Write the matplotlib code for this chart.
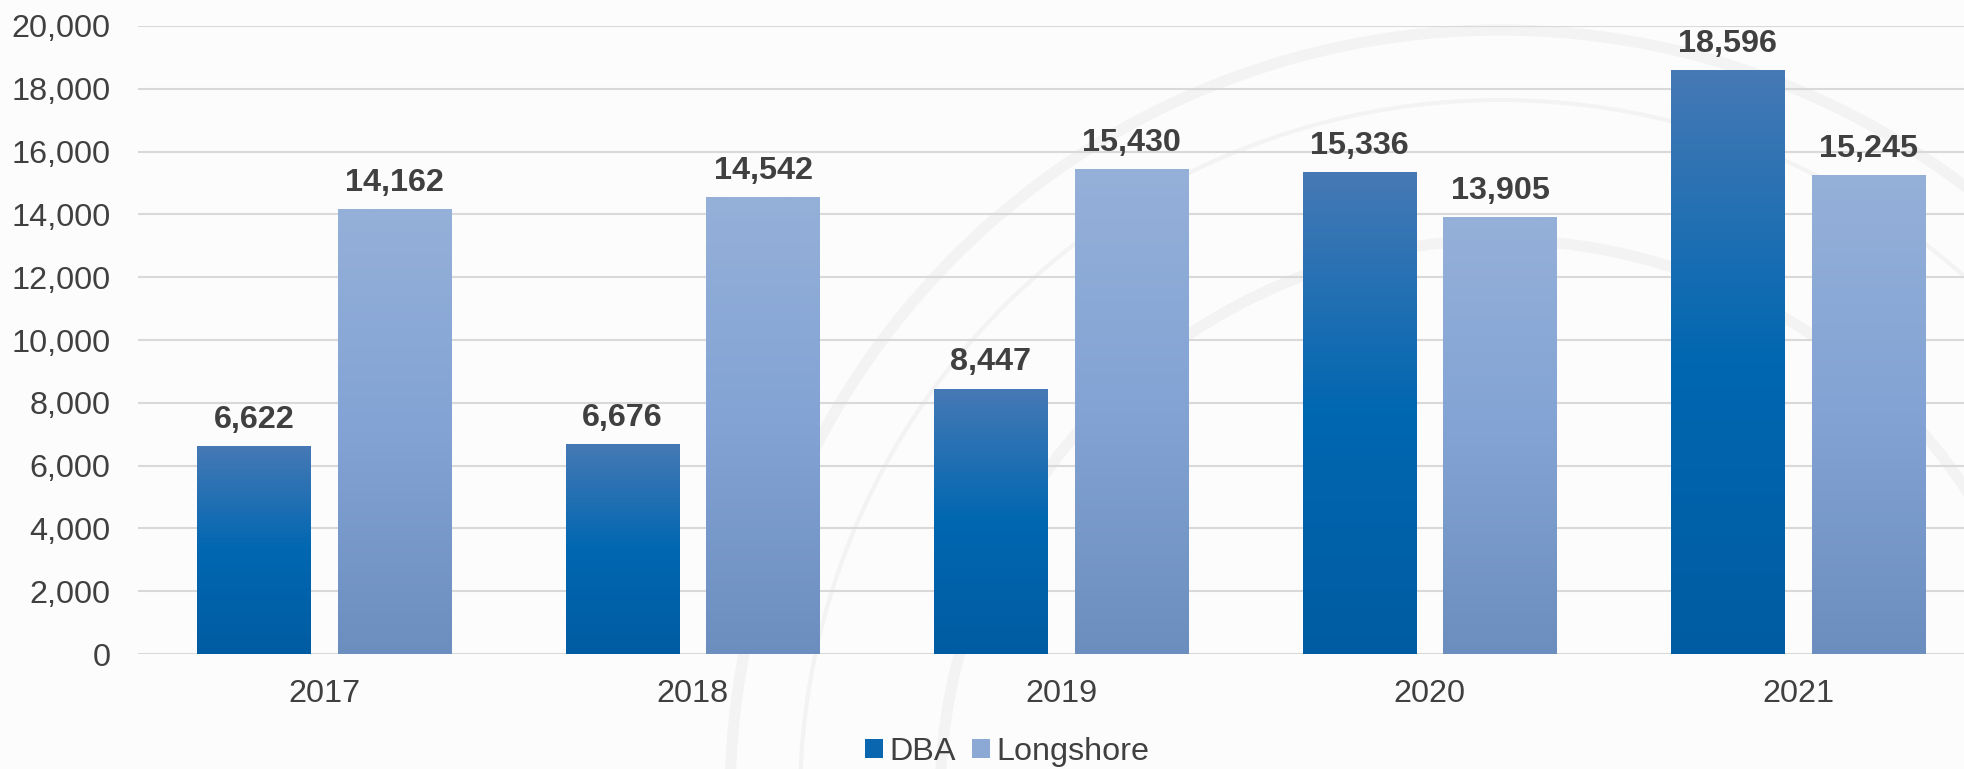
import numpy as np
import matplotlib.pyplot as plt
from matplotlib.colors import LinearSegmentedColormap
from matplotlib.patches import Patch, Circle

years = ["2017", "2018", "2019", "2020", "2021"]
dba = [6622, 6676, 8447, 15336, 18596]
longshore = [14162, 14542, 15430, 13905, 15245]
y_ticks = [0, 2000, 4000, 6000, 8000, 10000, 12000, 14000, 16000, 18000, 20000]

plt.rcParams['font.family'] = ['Liberation Sans', 'DejaVu Sans']

# vertical gradients, bottom -> top
dba_cmap = LinearSegmentedColormap.from_list("dba", [(0, "#005ca2"), (0.5, "#0067b1"), (1, "#4679b5")])
long_cmap = LinearSegmentedColormap.from_list("long", [(0, "#6c8ebf"), (0.5, "#82a3d4"), (1, "#95b0d9")])

fig = plt.figure(figsize=(19.64, 7.69), dpi=100)
fig.patch.set_facecolor("#fcfcfc")

# faint seal watermark in the background
wm = fig.add_axes([0, 0, 1, 1], zorder=-1)
wm.set_xlim(0, 1964)
wm.set_ylim(769, 0)
wm.axis("off")
for r, lw in [(770, 8), (700, 3), (560, 8)]:
    wm.add_patch(Circle((1500, 800), r, fill=False, ec="#f3f3f3", lw=lw))

ax = fig.add_axes([0.0703, 0.1495, 0.9297, 0.8167])
ax.patch.set_alpha(0)

x = np.arange(len(years))
w = 0.307
off = 0.191

grad = np.linspace(0, 1, 256).reshape(-1, 1)
for series, cmap, shift in [(dba, dba_cmap, -off), (longshore, long_cmap, off)]:
    bars = ax.bar(x + shift, series, width=w, color="none", zorder=3)
    for b, v in zip(bars, series):
        x0, x1 = b.get_x(), b.get_x() + b.get_width()
        im = ax.imshow(grad, cmap=cmap, origin="lower", aspect="auto",
                       extent=[x0, x1, 0, v], zorder=3)
        im.set_clip_path(b)
        ax.text(b.get_x() + b.get_width() / 2, v + 360, f"{v:,}", ha="center", va="bottom",
                fontsize=23.3, fontweight="bold", color="#404040", zorder=4)

ax.set_xlim(-0.505, 4.45)
ax.set_ylim(0, 20000)
ax.set_yticks(y_ticks)
ax.set_yticklabels([f"{t:,}" for t in y_ticks])
ax.set_xticks(x)
ax.set_xticklabels(years)
ax.tick_params(axis="both", length=0, labelsize=23.3, labelcolor="#404040")
ax.tick_params(axis="y", pad=20)
ax.tick_params(axis="x", pad=18)
ax.grid(axis="y", color="#d9d9d9", linewidth=1.5, zorder=0)
for s in ax.spines.values():
    s.set_visible(False)

handles = [Patch(facecolor="#0a66ae", label="DBA"), Patch(facecolor="#8ca9d6", label="Longshore")]
fig.legend(handles=handles, loc="lower center", bbox_to_anchor=(0.513, -0.035), ncol=2, frameon=False,
           fontsize=23.3, labelcolor="#404040", handlelength=0.55, handleheight=0.55,
           handletextpad=0.2, columnspacing=0.5)

fig.savefig("out.png", dpi=100, facecolor=fig.get_facecolor())
